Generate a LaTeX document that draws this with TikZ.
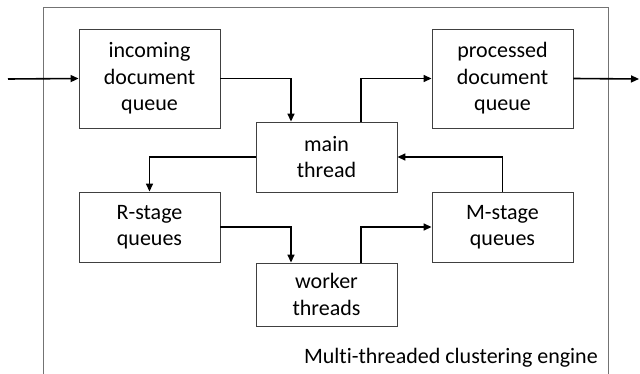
\documentclass[tikz,border=0pt]{standalone}
\usepackage{fontspec}
\setmainfont{Carlito}[Ligatures=NoCommon]
\usetikzlibrary{arrows.meta,calc}
\begin{document}
\begin{tikzpicture}[x=1pt,y=-1pt,
  box/.style={draw=black!75,line width=0.9pt,rectangle,minimum width=141pt,align=center,inner sep=0pt,font=\fontsize{22}{26.5}\selectfont},
  flow/.style={line width=1.6pt,-{Triangle[length=8pt,width=7pt]}},
  frame/.style={draw=black!55,line width=1pt}]
\useasboundingbox (0,0) rectangle (640,374);
\draw[frame] (43,380) -- (43,8) -- (608.5,8) -- (608.5,380);
\node[box,minimum height=99pt] (inc) at (149.5,78.5) {incoming\\document\\queue};
\node[box,minimum height=99pt] (proc) at (502.5,78.5) {processed\\document\\queue};
\node[box,minimum height=70pt] (main) at (326.5,157) {main\\thread};
\node[box,minimum height=70pt] (rq) at (149.5,227) {R-stage\\queues};
\node[box,minimum height=70pt] (mq) at (502.5,227) {M-stage\\queues};
\node[box,minimum height=63pt] (work) at (326.5,294.5) {worker\\threads};
\node[anchor=base east,inner sep=0pt,font=\fontsize{22}{26.5}\selectfont] (lbl) at (598,363) {Multi-threaded clustering engine};
\coordinate (in) at (8,79);
\coordinate (out) at (639,79);
\draw[flow] (in) -- (inc.west);
\draw[flow] (inc.east) -| ([xshift=-35.5pt]main.north);
\draw[flow] ([xshift=34.5pt]main.north) |- (proc.west);
\draw[flow] (proc.east) -- (out);
\draw[flow] (main.west) -| (rq.north);
\draw[flow] (mq.north) |- (main.east);
\draw[flow] (rq.east) -| ([xshift=-35.5pt]work.north);
\draw[flow] ([xshift=34.5pt]work.north) |- (mq.west);
\end{tikzpicture}
\end{document}
